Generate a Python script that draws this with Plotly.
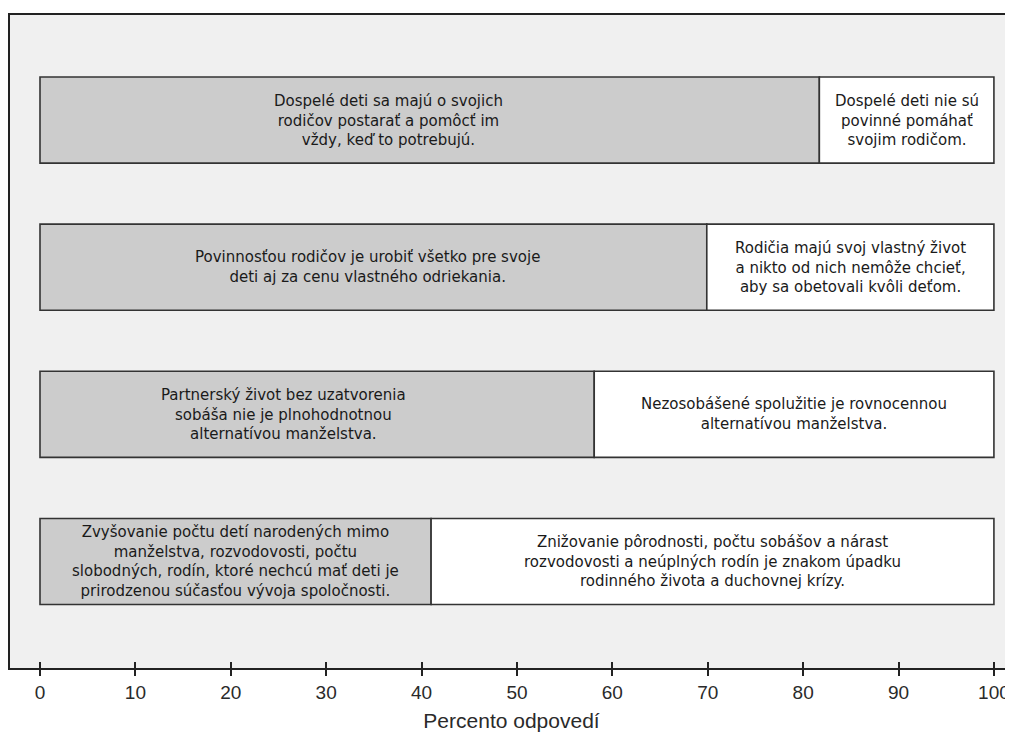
import plotly.graph_objects as go

categories = ["b1", "b2", "b3", "b4"]
agree_pct = [81.7, 69.9, 58.1, 41.0]
disagree_pct = [18.3, 30.1, 41.9, 59.0]
agree_labels = [
    ["Dospelé deti sa majú o svojich", "rodičov postarať a pomôcť im", "vždy, keď to potrebujú."],
    ["Povinnosťou rodičov je urobiť všetko pre svoje", "deti aj za cenu vlastného odriekania."],
    ["Partnerský život bez uzatvorenia", "sobáša nie je plnohodnotnou", "alternatívou manželstva."],
    ["Zvyšovanie počtu detí narodených mimo", "manželstva, rozvodovosti, počtu",
     "slobodných, rodín, ktoré nechcú mať deti je", "prirodzenou súčasťou vývoja spoločnosti."],
]
disagree_labels = [
    ["Dospelé deti nie sú", "povinné pomáhať", "svojim rodičom."],
    ["Rodičia majú svoj vlastný život", "a nikto od nich nemôže chcieť,", "aby sa obetovali kvôli deťom."],
    ["Nezosobášené spolužitie je rovnocennou", "alternatívou manželstva."],
    ["Znižovanie pôrodnosti, počtu sobášov a nárast",
     "rozvodovosti a neúplných rodín je znakom úpadku", "rodinného života a duchovnej krízy."],
]
x_ticks = [0, 10, 20, 30, 40, 50, 60, 70, 80, 90, 100]
x_title = "Percento odpovedí"

# styling
agree_label_xshift = [-41, -6, -34, 0]
line_style = dict(color="#333333", width=1.6)
txt_font = dict(family="DejaVu Sans", size=15, color="#1a1a1a")
axis_font = "Liberation Sans, Arial"

fig = go.Figure()
fig.add_trace(go.Bar(y=categories, x=agree_pct, orientation="h",
                     marker=dict(color="#cccccc", line=line_style),
                     width=0.585, hoverinfo="skip", showlegend=False))
fig.add_trace(go.Bar(y=categories, x=disagree_pct, orientation="h", base=agree_pct,
                     marker=dict(color="#ffffff", line=line_style),
                     width=0.585, hoverinfo="skip", showlegend=False))

for c, a, d, la, ld, sh in zip(categories, agree_pct, disagree_pct,
                               agree_labels, disagree_labels, agree_label_xshift):
    fig.add_annotation(x=a / 2, y=c, text="<br>".join(la), showarrow=False, font=txt_font,
                       xref="x", yref="y", align="center", xshift=sh)
    fig.add_annotation(x=a + d / 2, y=c, text="<br>".join(ld), showarrow=False, font=txt_font,
                       xref="x", yref="y", align="center")

x_range = [-3.145, 102.0]
fig.update_layout(
    width=1005, height=728,
    margin=dict(l=2, r=0, t=7, b=68),
    paper_bgcolor="white", plot_bgcolor="#f0f0f0",
    barmode="overlay",
    xaxis=dict(range=x_range, tickvals=x_ticks, ticks="outside", ticklen=6,
               tickwidth=1.5, tickcolor="#222222",
               showline=True, linecolor="#222222", linewidth=1.6, mirror=True,
               showgrid=False, zeroline=False,
               tickfont=dict(family=axis_font, size=19, color="#2a2a2a"),
               title=dict(text=x_title, standoff=12,
                          font=dict(family=axis_font, size=21, color="#2a2a2a"))),
    xaxis2=dict(range=x_range, tickvals=x_ticks, ticks="inside", ticklen=6,
                tickwidth=1.5, tickcolor="#222222", showticklabels=False,
                overlaying="x", anchor="y", side="bottom",
                showgrid=False, zeroline=False, showline=False),
    yaxis=dict(range=[3.724, -0.714], categoryorder="array", categoryarray=categories,
               showticklabels=False, ticks="", showgrid=False, zeroline=False,
               showline=True, linecolor="#222222", linewidth=1.6),
)
fig.add_trace(go.Scatter(x=[x_ticks[5]], y=[categories[0]], xaxis="x2", yaxis="y",
                         mode="markers", marker=dict(opacity=0), showlegend=False,
                         hoverinfo="skip"))
fig.write_html("out.html")
